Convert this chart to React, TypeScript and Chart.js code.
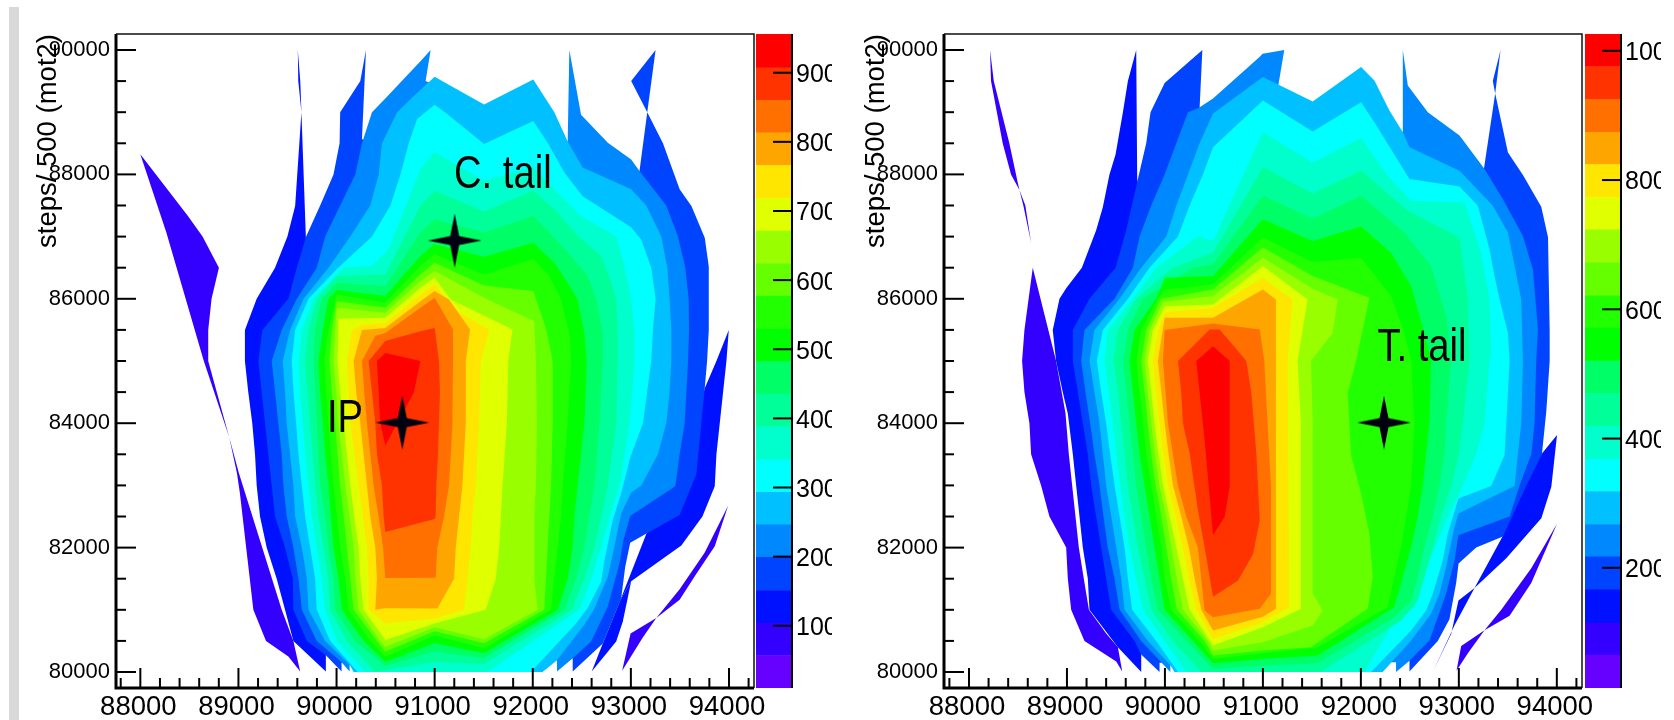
import React, { useEffect, useRef } from "react";
import { Chart, registerables } from "chart.js";

Chart.register(...registerables);

type P = [number, number];

const FONT = "'Liberation Sans', Arial, sans-serif";

// Palette, lowest band first
const bandColors = ["#6600ff","#3300ff","#0011ff","#0044ff","#0088ff","#00c0ff","#00ffff","#00ffcc","#00ff99","#00ff66","#00ff00","#22ff00","#66ff00","#99ff00","#e0ff00","#ffe600","#ffa500","#ff7000","#ff3300","#ff0000"];
const leftEdges = [10,57,104,151,199,246,293,340,388,435,482,529,577,624,671,718,766,813,860,907,956];
const rightEdges = [14,65,115,166,217,267,318,368,419,470,520,571,621,672,723,773,824,874,925,976,1026];
const leftPaletteTicks = [100,200,300,400,500,600,700,800,900];
const rightPaletteTicks = [200,400,600,800,1000];

const xTickValues = [87800,88000,88200,88400,88600,88800,89000,89200,89400,89600,89800,90000,90200,90400,90600,90800,91000,91200,91400,91600,91800,92000,92200,92400,92600,92800,93000,93200,93400,93600,93800,94000,94200];
const yTickValues = [80000,80500,81000,81500,82000,82500,83000,83500,84000,84500,85000,85500,86000,86500,87000,87500,88000,88500,89000,89500,90000];

// ---- Left plot contour outlines (motor steps)
const A_violetA: P[] = [[88000,88323],[88487,87328],[88634,87000],[88801,86500],[88726,86000],[88692,85500],[88692,85000],[88906,83775],[88647,85000],[88266,87060]];
const A_violetB: P[] = [[88906,83775],[89005,83197],[89441,81000],[89560,80500],[89629,80010],[89509,80250],[89281,80500],[89152,81000],[89015,82875],[88985,83197]];
const A_violetC: P[] = [[93991,82672],[93855,82020],[93651,81540],[93497,81160],[93259,80870],[92997,80620],[92911,80020],[93123,80560],[93259,80870],[93497,81330],[93753,81920]];
const A_blueMain: P[] = [[89605,90000],[89610,89500],[89642,89000],[89578,87490],[89499,87000],[89373,86500],[89186,86000],[89066,85500],[89066,85000],[89100,84500],[89141,84000],[89169,83500],[89186,83000],[89220,82500],[89288,82000],[89390,81500],[89475,81000],[89560,80500],[89891,80010],[89891,80270],[90000,85000],[89690,86870],[89642,89000],[89630,89500]];
const A_blueLobe: P[] = [[93998,85500],[93974,85000],[93940,84500],[93906,84000],[93872,83500],[93855,82985],[93729,82500],[93514,82035],[93003,81460],[92894,81160],[93157,82220],[93583,83400],[93753,84560],[93872,85000]];
const A_blueStrip: P[] = [[92894,81160],[93003,81460],[92918,80812],[92850,80490],[92601,80010],[92714,80460]];
const A_b44Main: P[] = [[90051,80150],[90051,80010],[89891,80270],[89697,80500],[89560,81000],[89554,81500],[89475,82000],[89373,82500],[89339,83000],[89305,83500],[89271,84000],[89237,84500],[89203,85000],[89244,85500],[89509,86000],[89595,86500],[89690,87000],[89833,87500],[89969,88000],[90031,88500],[90037,89000],[90242,89500],[90300,90000],[90259,88565],[93088,88055],[93167,89000],[93327,88500],[93497,87760],[93617,87490],[93753,86980],[93794,86520],[93794,85500],[93777,85000],[93753,84565],[93667,83175],[93497,82525],[93146,82215],[92993,82080],[92942,81690],[92901,81180],[92714,80460],[92407,80010],[92407,80220]];
const A_b44Top: P[] = [[93252,90000],[93003,89500],[93167,89000]];
const A_b88: P[] = [[90133,80115],[90133,80010],[90044,80170],[89799,80500],[89646,81000],[89612,81500],[89560,82000],[89492,82500],[89458,83000],[89441,83500],[89407,84000],[89373,84500],[89339,85000],[89441,85500],[89595,86000],[89799,86500],[89884,87000],[90037,87500],[90191,88000],[90259,88500],[90361,89000],[90497,89220],[90855,89820],[90959,90000],[90908,89500],[92356,88530],[92373,90000],[92492,88960],[92765,88510],[93003,88240],[93088,88055],[93361,87500],[93480,87000],[93555,86500],[93589,86000],[93593,85500],[93583,85000],[93566,84500],[93548,84000],[93497,83500],[93453,82985],[92993,82510],[92925,82125],[92884,81750],[92765,81055],[92595,80490],[92407,80220],[92247,80010],[92247,80190]];
const A_c0: P[] = [[90174,80000],[90133,80115],[89884,80500],[89714,81000],[89697,81500],[89646,82000],[89578,82500],[89560,83000],[89526,83500],[89492,84000],[89475,84500],[89451,85000],[89526,85500],[89663,86000],[89918,86500],[90140,87000],[90344,87500],[90429,88000],[90463,88500],[90617,89000],[90787,89260],[91000,89570],[91112,89470],[91504,89125],[92005,89525],[92220,89000],[92356,88530],[92509,88110],[93003,87760],[93157,87500],[93310,87000],[93371,86500],[93395,86000],[93412,85500],[93412,85000],[93395,84500],[93361,84000],[93276,83500],[93106,83000],[93003,82880],[92901,82550],[92833,82020],[92765,81530],[92629,81020],[92526,80760],[92247,80190],[92100,80000]];
const A_cyan: P[] = [[90215,80000],[89935,80500],[89799,81000],[89782,81500],[89731,82000],[89680,82500],[89646,83000],[89612,83500],[89588,84000],[89561,84500],[89543,85000],[89578,85500],[89714,86000],[90003,86480],[90361,87000],[90549,87500],[90651,88000],[90736,88500],[90821,88890],[91000,89118],[91112,88990],[91504,88490],[92005,88860],[92152,88510],[92322,88030],[92509,87650],[93003,87150],[93106,86950],[93208,86500],[93252,86000],[93225,85500],[93208,85000],[93123,84000],[92997,83465],[92901,82875],[92816,82445],[92731,81800],[92697,81450],[92560,81030],[92441,80780],[91981,80000]];
const A_cc: P[] = [[90293,80000],[90003,80500],[89884,81000],[89850,81500],[89799,82000],[89748,82500],[89714,83000],[89680,83500],[89656,84000],[89629,84500],[89612,85000],[89646,85500],[89765,86000],[90072,86500],[90361,86527],[90531,86796],[90855,88086],[91000,88355],[91504,87898],[92005,88113],[92220,87763],[92492,87333],[92850,87000],[92935,86527],[93003,86000],[93037,85450],[93037,85000],[92986,84000],[92884,83000],[92782,82500],[92697,82000],[92595,81500],[92475,81000],[91538,80000]];
const A_s99: P[] = [[90395,80000],[90106,80500],[89935,81000],[89918,81500],[89867,82000],[89816,82500],[89782,83000],[89758,83500],[89731,84000],[89704,84500],[89680,85000],[89714,85500],[89799,86000],[90003,86366],[90497,86392],[90855,87495],[91000,87736],[91504,87403],[92005,87736],[92220,87441],[92458,87011],[92697,86688],[92799,86258],[92850,85990],[92867,85450],[92867,85000],[92850,84000],[92765,83000],[92697,82500],[92629,82000],[92526,81500],[92397,81000],[91504,80129],[91000,80167],[90497,80030]];
const A_s66: P[] = [[90497,80097],[90191,80500],[89986,81000],[89969,81500],[89918,82000],[89884,82500],[89833,83000],[89816,83500],[89799,84000],[89782,84500],[89765,85000],[89782,85500],[89850,86000],[90003,86258],[90497,86204],[90855,87064],[91000,87280],[91504,87064],[92005,87333],[92169,87064],[92390,86688],[92560,86366],[92646,86000],[92714,85450],[92714,85000],[92680,84000],[92629,83000],[92577,82500],[92526,82000],[92441,81500],[92322,81000],[91504,80220],[91000,80328]];
const A_g00: P[] = [[90497,80167],[90276,80500],[90055,81000],[90020,81500],[89969,82000],[89942,82500],[89918,83000],[89884,83500],[89860,84000],[89833,84500],[89816,85000],[89860,85500],[89918,86000],[90003,86140],[90497,86043],[90855,86688],[91000,86876],[91504,86677],[92005,86903],[92220,86580],[92356,86258],[92458,85990],[92526,85450],[92550,85000],[92526,84000],[92458,83000],[92424,82500],[92407,82000],[92356,81500],[92254,81000],[91504,80300],[91000,80462]];
const A_g22: P[] = [[90497,80247],[90344,80500],[90123,81000],[90089,81500],[90037,82000],[90003,82500],[89969,83000],[89942,83500],[89918,84000],[89894,84500],[89874,85000],[89918,85500],[90003,86070],[90497,85936],[90855,86527],[91000,86715],[91504,86392],[92005,86645],[92169,86366],[92288,85990],[92373,85450],[92390,85000],[92356,84000],[92305,83000],[92288,82500],[92254,82000],[92220,81500],[92186,81000],[91504,80382],[91000,80586]];
const A_g66: P[] = [[90497,80328],[90412,80500],[90174,81000],[90140,81500],[90106,82000],[90072,82500],[90037,83000],[90010,83500],[89986,84000],[89952,84500],[89928,85000],[89952,85500],[90003,85962],[90497,85855],[90855,86392],[91000,86580],[91504,86215],[92005,86124],[92134,85532],[92203,85000],[92203,84000],[92186,83000],[92169,82500],[92152,82000],[92134,81500],[92117,81000],[91504,80462],[91000,80655]];
const A_g99: P[] = [[90497,80408],[90446,80500],[90225,81000],[90191,81500],[90174,82000],[90133,82500],[90089,83000],[90055,83500],[90020,84000],[89997,84500],[89969,85000],[89986,85500],[90003,85855],[90497,85774],[90855,86285],[91000,86446],[91538,85989],[92015,85640],[92032,85000],[92042,84000],[92032,83000],[92015,82500],[92015,82000],[92015,81500],[92049,81000],[91504,80527],[91000,80720]];
const A_ye0: P[] = [[90497,80516],[90276,81000],[90242,81500],[90225,82000],[90181,82500],[90140,83000],[90106,83500],[90072,84000],[90037,84500],[90010,85000],[90020,85500],[90020,85680],[90497,85694],[90855,86177],[91000,86339],[91164,85989],[91794,85505],[91750,85000],[91736,84000],[91692,83000],[91675,82500],[91658,82000],[91623,81500],[91521,81000],[91000,80780]];
const A_yel: P[] = [[90497,80780],[90327,81000],[90327,81500],[90310,82000],[90269,82500],[90225,83000],[90181,83500],[90140,84000],[90123,84500],[90106,85000],[90157,85500],[90259,85586],[90497,85613],[90855,86070],[91000,86231],[91198,85828],[91555,85505],[91470,85000],[91453,84000],[91419,83000],[91385,82500],[91368,82000],[91334,81500],[91300,81000],[91000,80860]];
const A_ora: P[] = [[90497,81027],[90395,81000],[90412,81500],[90395,82000],[90344,82500],[90310,83000],[90276,83500],[90242,84000],[90201,84500],[90174,85000],[90259,85500],[90497,85532],[90855,85962],[91000,86124],[91146,85989],[91361,85505],[91317,85000],[91317,84000],[91283,83000],[91249,82500],[91215,82000],[91198,81500],[91027,81020]];
const A_dor: P[] = [[90497,81510],[90474,82000],[90429,82500],[90378,83000],[90344,83500],[90310,84000],[90283,84500],[90259,85000],[90395,85400],[90497,85450],[90855,85855],[91000,86016],[91187,85505],[91187,85000],[91181,84000],[91146,83000],[91095,82500],[91027,82000],[91010,81515]];
const A_ore: P[] = [[90497,82250],[90480,82500],[90463,83000],[90412,83500],[90395,84000],[90361,84500],[90327,85000],[90497,85320],[90855,85478],[91000,85532],[91044,85000],[91054,84500],[91044,84000],[91034,83500],[91017,83000],[91010,82500],[91000,82460]];
const A_red: P[] = [[90412,85000],[90497,85130],[90855,85000],[90787,84490],[90497,83640],[90446,84000]];

// ---- Right plot contour outlines
const B_violetA: P[] = [[88215,90000],[88225,89500],[88344,88500],[88429,88000],[88515,87750],[88497,87875],[88412,88500],[88253,89500]];
const B_violetB: P[] = [[88515,87750],[88575,87500],[88634,86900],[88555,87500]];
const B_violetC: P[] = [[88634,86900],[88651,86500],[88889,85000],[88985,84160],[89019,83500],[89053,83000],[89087,82500],[89121,82000],[89172,81500],[89224,81000],[89400,80620],[89520,80400],[89564,80010],[89503,80170],[89179,80500],[89043,81000],[89009,81500],[88992,82000],[88821,82500],[88736,83000],[88634,83500],[88617,84000],[88566,84500],[88542,85000],[88566,85500],[88651,86500]];
const B_violetD: P[] = [[94002,82383],[93739,81430],[93518,80905],[93262,80670],[93024,80420],[92976,80020],[93092,80300],[93262,80670],[93433,81000],[93739,81670]];
const B_blueMain: P[] = [[89707,90000],[89622,89500],[89571,89000],[89496,88320],[89434,88000],[89366,87470],[89298,87100],[89152,86500],[88992,86170],[88924,86000],[88855,85500],[88889,85000],[88957,84500],[89009,84150],[89060,83500],[89094,83000],[89128,82500],[89162,82000],[89213,81500],[89230,81000],[89520,80400],[89758,80000],[89758,80280],[90000,85000],[89717,87925]];
const B_blueLobe: P[] = [[94002,83812],[93944,82980],[93842,82470],[93484,81830],[93160,81350],[93450,82190],[93500,83000],[93842,83500]];
const B_blueStrip: P[] = [[93160,81350],[92996,81150],[92922,80615],[92734,80000],[92956,80750]];
const B_b44Main: P[] = [[89945,80150],[89945,80000],[89758,80280],[89690,80500],[89451,81000],[89400,81500],[89349,82000],[89298,82500],[89247,83000],[89213,83500],[89162,84000],[89111,84500],[89060,85000],[89060,85500],[89230,86000],[89496,86500],[89605,87100],[89724,87925],[89809,88500],[89853,89000],[89997,89470],[90382,90000],[90354,89070],[93255,88080],[93371,89300],[93501,88350],[93654,87990],[93841,87480],[93910,86990],[93927,85500],[93927,85000],[93893,84200],[93848,83500],[93688,82990],[93450,82180],[93177,82000],[92997,81745],[92973,81435],[92904,80850],[92785,80500],[92496,80010],[92496,80190]];
const B_b44Top: P[] = [[93426,90000],[93347,89500],[93371,89300]];
const B_b88: P[] = [[90055,80110],[90055,80000],[89758,80500],[89537,81000],[89486,81500],[89417,82000],[89373,82500],[89332,83000],[89281,83500],[89237,84000],[89189,84500],[89145,85000],[89179,85500],[89486,86000],[89673,86500],[89741,87000],[89860,87500],[89997,88000],[90116,88500],[90235,89000],[90347,89070],[90491,89220],[90968,89890],[90997,89941],[91218,90000],[91157,89430],[91508,89100],[92000,89100],[92428,88677],[92428,90000],[92479,89430],[92683,89000],[93007,88624],[93262,88086],[93450,87602],[93654,87011],[93756,86473],[93807,85505],[93790,85021],[93773,84000],[93739,83500],[93620,83000],[93518,82500],[92996,82199],[92956,81796],[92870,81258],[92700,80506],[92496,80183],[92359,80000],[92359,80156]];
const B_c0: P[] = [[90099,80000],[90055,80110],[89826,80500],[89588,81000],[89554,81500],[89503,82000],[89452,82500],[89400,83000],[89366,83500],[89332,84000],[89281,84500],[89230,85000],[89281,85500],[89537,86000],[89758,86500],[90014,87000],[90116,87500],[90235,88000],[90354,88500],[90491,88979],[91000,89564],[91508,89172],[92002,89726],[92138,89510],[92291,89027],[92428,88677],[92496,88435],[93007,88059],[93347,87495],[93501,87064],[93569,86527],[93637,85989],[93654,85000],[93637,84000],[93603,83500],[93569,82989],[92996,82548],[92956,82333],[92870,81688],[92802,81258],[92717,80935],[92513,80506],[92223,80000]];
const B_cyan: P[] = [[90133,80000],[89911,80500],[89666,81000],[89622,81500],[89588,82000],[89537,82500],[89486,83000],[89441,83500],[89400,84000],[89349,84500],[89305,85000],[89366,85500],[89622,86000],[89843,86500],[90133,87000],[90252,87500],[90388,88000],[90491,88435],[91000,89188],[91508,88688],[92002,89161],[92138,88839],[92496,87925],[93007,87806],[93194,87495],[93313,86796],[93364,86366],[93416,85989],[93501,85452],[93518,85000],[93484,84000],[93467,83489],[93330,82989],[92996,82790],[92887,82226],[92836,81796],[92734,81258],[92666,80989],[92513,80667],[92104,80000]];
const B_cc: P[] = [[90218,80000],[89997,80500],[89775,81000],[89707,81500],[89639,82000],[89588,82500],[89543,83000],[89503,83500],[89468,84000],[89428,84500],[89383,85000],[89417,85500],[89673,86000],[89911,86500],[90337,87000],[90491,86930],[91000,88677],[91508,88193],[92002,88580],[92274,87978],[92513,87575],[93058,87548],[93228,86742],[93313,85989],[93330,85129],[93313,85000],[93262,84000],[93177,83500],[93092,83193],[93007,82871],[92870,82441],[92802,82172],[92632,81527],[92547,81043],[92325,80774],[92036,80000]];
const B_s99: P[] = [[90371,80000],[90082,80500],[89860,81000],[89792,81500],[89724,82000],[89673,82500],[89622,83000],[89588,83500],[89554,84000],[89520,84500],[89475,85000],[89520,85500],[89707,86000],[90082,86500],[90491,86742],[91000,88113],[91508,87693],[92002,88059],[92479,87414],[93007,86984],[93092,85989],[93109,85000],[93041,84000],[93000,83500],[92922,82989],[92819,82505],[92734,82011],[92649,81527],[92581,81151],[92410,80828],[91592,80000]];
const B_s66: P[] = [[90491,80049],[90218,80500],[89928,81000],[89860,81500],[89809,82000],[89758,82500],[89707,83000],[89673,83500],[89639,84000],[89605,84500],[89571,85000],[89622,85500],[89775,86000],[90286,86500],[90491,86554],[91000,87656],[91508,87290],[92002,87656],[92445,87064],[92717,86527],[92870,85720],[92922,85000],[92870,84000],[92853,83500],[92802,82989],[92734,82505],[92649,82011],[92581,81527],[92513,81151],[92342,80882],[91559,80140],[91000,80100]];
const B_g00: P[] = [[90491,80140],[90286,80500],[89997,81000],[89945,81500],[89894,82000],[89843,82500],[89792,83000],[89741,83500],[89707,84000],[89673,84500],[89639,85000],[89690,85500],[89911,86000],[90000,86339],[90491,86366],[91000,87280],[91508,86930],[92002,87161],[92308,86742],[92513,86204],[92649,85452],[92717,85000],[92700,84000],[92666,83500],[92632,83000],[92581,82500],[92513,82011],[92428,81527],[92342,81043],[91559,80264],[91000,80210]];
const B_g22: P[] = [[90491,80210],[90354,80500],[90065,81000],[89997,81500],[89963,82000],[89911,82500],[89860,83000],[89809,83500],[89775,84000],[89741,84500],[89707,85000],[89758,85500],[89928,86000],[90000,86150],[90491,86231],[91000,86984],[91508,86591],[92002,86661],[92308,86043],[92445,85452],[92513,85000],[92547,84000],[92513,83000],[92462,82500],[92410,82011],[92342,81527],[92274,81043],[91559,80398],[91000,80300]];
const B_g66: P[] = [[90491,80264],[90405,80500],[90123,81000],[90065,81500],[90014,82000],[89963,82500],[89905,83000],[89860,83500],[89826,84000],[89792,84500],[89758,85000],[89809,85500],[89960,86000],[90491,86151],[91000,86823],[91508,86366],[92087,86016],[91951,85000],[91865,84484],[91882,84000],[91899,83489],[92002,82871],[92087,82226],[92121,81527],[92070,81016],[91491,80398],[91000,80344]];
const B_g99: P[] = [[90491,80344],[90439,80500],[90184,81000],[90123,81500],[90065,82000],[90014,82500],[89945,83000],[89900,83500],[89860,84000],[89826,84500],[89792,85000],[89843,85500],[89980,85950],[90491,86043],[91000,86661],[91508,86161],[91763,85989],[91712,85452],[91491,85000],[91508,84000],[91508,83000],[91508,82000],[91508,81258],[91610,80989],[91508,80747],[91000,80480]];
const B_ye0: P[] = [[90491,80425],[90252,81000],[90184,81500],[90116,82000],[90048,82500],[89980,83000],[89935,83500],[89894,84000],[89860,84500],[89826,85000],[89877,85500],[90000,85880],[90491,85909],[91000,86527],[91456,85989],[91354,85000],[91388,84000],[91388,81016],[91000,80720]];
const B_yel: P[] = [[90491,80532],[90320,81000],[90245,81500],[90184,82000],[90109,82500],[90031,83000],[89986,83500],[89945,84000],[89911,84500],[89877,85000],[89928,85500],[90000,85780],[90491,85855],[91000,86339],[91303,85989],[91252,85000],[91269,81043],[91000,80801]];
const B_ora: P[] = [[90491,80667],[90371,81000],[90303,81500],[90245,82000],[90167,82500],[90082,83000],[90037,83500],[89997,84000],[89963,84500],[89928,85000],[89997,85694],[90491,85694],[91000,86151],[91133,85989],[91133,85000],[91133,81016],[91000,80890]];
const B_dor: P[] = [[90491,80882],[90405,80989],[90337,82000],[90218,82500],[90133,83000],[90082,83500],[90031,84000],[90007,84500],[89980,85000],[89997,85500],[90491,85602],[90968,85505],[91014,85000],[91082,83000],[91082,81258],[90968,81016]];
const B_ore: P[] = [[90491,81209],[90405,82011],[90337,82602],[90252,83516],[90184,84000],[90167,84484],[90133,85000],[90456,85505],[90559,85505],[90763,85129],[90831,85000],[90882,84484],[90933,83516],[90968,82441],[90899,81892],[90746,81473]];
const B_red: P[] = [[90491,85237],[90661,85000],[90661,82979],[90610,82495],[90491,82199],[90405,83731],[90320,85000]];

// Lowest band first; each entry: colour index, outline
const leftBands: [number, P[]][] = [
  [1,A_violetA],[1,A_violetB],[1,A_violetC],[2,A_blueMain],[2,A_blueLobe],[2,A_blueStrip],[3,A_b44Main],[3,A_b44Top],[4,A_b88],[5,A_c0],[6,A_cyan],[7,A_cc],[8,A_s99],[9,A_s66],[10,A_g00],[11,A_g22],[12,A_g66],[13,A_g99],[14,A_ye0],[15,A_yel],[16,A_ora],[17,A_dor],[18,A_ore],[19,A_red],
];
const rightBands: [number, P[]][] = [
  [1,B_violetA],[1,B_violetB],[1,B_violetC],[1,B_violetD],[2,B_blueMain],[2,B_blueLobe],[2,B_blueStrip],[3,B_b44Main],[3,B_b44Top],[4,B_b88],[5,B_c0],[6,B_cyan],[7,B_cc],[8,B_s99],[9,B_s66],[10,B_g00],[11,B_g22],[12,B_g66],[13,B_g99],[14,B_ye0],[15,B_yel],[16,B_ora],[17,B_dor],[18,B_ore],[19,B_red],
];

const leftStars: P[] = [[90670,84010],[91204,86937]];
const rightStars: P[] = [[92236,84010]];
const leftNotes: [string, number, number][] = [["C. tail",91695,87990],["IP",90086,84055]];
const rightNotes: [string, number, number][] = [["T. tail",92624,85200]];

function makeStar(): HTMLCanvasElement {
  const c = document.createElement("canvas");
  c.width = 54; c.height = 54;
  const g = c.getContext("2d")!;
  g.fillStyle = "#000010";
  g.beginPath();
  g.moveTo(27,0); g.lineTo(31.5,22.5); g.lineTo(54,27); g.lineTo(31.5,31.5); g.lineTo(27,54); g.lineTo(22.5,31.5); g.lineTo(0,27); g.lineTo(22.5,22.5);
  g.closePath(); g.fill();
  return c;
}

function framePlugin(notes: [string, number, number][]) {
  return {
    id: "frame",
    afterDatasetsDraw(chart: any) {
      const { ctx, chartArea: a, scales } = chart;
      ctx.save();
      ctx.strokeStyle = "#000";
      ctx.fillStyle = "#000";
      ctx.lineWidth = 2;
      for (const t of scales.x.ticks) {
        const px = scales.x.getPixelForValue(t.value);
        const len = t.value % 1000 === 0 ? 20 : 10;
        ctx.beginPath(); ctx.moveTo(px, a.bottom); ctx.lineTo(px, a.bottom - len); ctx.stroke();
      }
      for (const t of scales.y.ticks) {
        const py = scales.y.getPixelForValue(t.value);
        const len = t.value % 2000 === 0 ? 20 : 10;
        ctx.beginPath(); ctx.moveTo(a.left, py); ctx.lineTo(a.left + len, py); ctx.stroke();
      }
      ctx.lineWidth = 3;
      ctx.beginPath(); ctx.moveTo(a.left, a.top); ctx.lineTo(a.left, a.bottom); ctx.lineTo(a.right, a.bottom); ctx.stroke();
      ctx.lineWidth = 1.5;
      ctx.strokeStyle = "#111";
      ctx.beginPath(); ctx.moveTo(a.left, a.top); ctx.lineTo(a.right, a.top); ctx.lineTo(a.right, a.bottom); ctx.stroke();
      ctx.font = `46px ${FONT}`;
      ctx.textAlign = "center";
      ctx.textBaseline = "middle";
      for (const [s, x, y] of notes) {
        ctx.save();
        ctx.translate(scales.x.getPixelForValue(x), scales.y.getPixelForValue(y));
        ctx.scale(0.83, 1);
        ctx.fillText(s, 0, 0);
        ctx.restore();
      }
      ctx.restore();
    },
  };
}

const paletteAxisPlugin = {
  id: "paletteAxis",
  afterDatasetsDraw(chart: any) {
    const { ctx, chartArea: a, scales } = chart;
    ctx.save();
    ctx.strokeStyle = "#000";
    ctx.lineWidth = 2;
    ctx.beginPath(); ctx.moveTo(a.right, a.top); ctx.lineTo(a.right, a.bottom); ctx.stroke();
    for (const t of scales.y.ticks) {
      const py = scales.y.getPixelForValue(t.value);
      ctx.beginPath(); ctx.moveTo(a.right, py); ctx.lineTo(a.right - 19, py); ctx.stroke();
    }
    ctx.restore();
  },
};

const noPadding = (s: any) => { s.paddingLeft = 0; s.paddingRight = 0; s.paddingTop = 0; s.paddingBottom = 0; };

function Plot({ left, xMin, xMax, bands, stars, notes }: any) {
  const ref = useRef<HTMLCanvasElement>(null);
  useEffect(() => {
    const datasets: any[] = [];
    datasets.push({ type: "scatter", data: stars.map(([x, y]: P) => ({ x, y })), showLine: false, pointStyle: makeStar(), pointRadius: 27 });
    for (const [ci, poly] of [...bands].reverse()) {
      datasets.push({
        type: "scatter",
        data: poly.map(([x, y]: P) => ({ x, y })),
        showLine: true,
        fill: "shape",
        backgroundColor: bandColors[ci],
        borderColor: bandColors[ci],
        borderWidth: 0,
        pointRadius: 0,
        tension: 0,
      });
    }
    const chart = new Chart(ref.current!, {
      type: "scatter",
      data: { datasets },
      plugins: [framePlugin(notes)],
      options: {
        animation: false,
        responsive: false,
        events: [],
        layout: { autoPadding: false, padding: { top: 34, right: 30, left: 0, bottom: 0 } },
        plugins: { legend: { display: false }, tooltip: { enabled: false } },
        scales: {
          x: {
            type: "linear", min: xMin, max: xMax,
            grid: { display: false, drawTicks: false }, border: { display: false },
            afterBuildTicks: (s: any) => { s.ticks = xTickValues.map((value) => ({ value })); },
            afterFit: (s: any) => { s.height = 32; noPadding(s); },
            ticks: {
              autoSkip: false, maxRotation: 0, padding: 3, labelOffset: -2, color: "#000",
              font: { family: FONT, size: 27.5 },
              callback: (v: any) => (Number(v) % 1000 === 0 ? String(v) : ""),
            },
          },
          y: {
            type: "linear", min: 79743, max: 90257,
            grid: { display: false, drawTicks: false }, border: { display: false },
            afterBuildTicks: (s: any) => { s.ticks = yTickValues.map((value) => ({ value })); },
            afterFit: (s: any) => { s.width = 92; noPadding(s); },
            title: { display: true, text: "steps/ 500 (mot2)", align: "end", color: "#000", font: { family: FONT, size: 27.5 }, padding: { top: 8, bottom: 0 } },
            ticks: {
              autoSkip: false, padding: 6, color: "#000",
              font: { family: FONT, size: 22 },
              callback: (v: any) => (Number(v) % 2000 === 0 ? String(v) : ""),
            },
          },
        },
      },
    } as any);
    return () => chart.destroy();
  }, []);
  return <canvas ref={ref} width={760} height={720} style={{ position: "absolute", left, top: 0, display: "block" }} />;
}

function Palette({ left, edges, ticks }: any) {
  const ref = useRef<HTMLCanvasElement>(null);
  useEffect(() => {
    const datasets = bandColors.map((c, i) => ({ data: [[edges[i], edges[i + 1]]], backgroundColor: c, borderWidth: 0, grouped: false, barPercentage: 1, categoryPercentage: 1 }));
    const chart = new Chart(ref.current!, {
      type: "bar",
      data: { labels: ["z"], datasets },
      plugins: [paletteAxisPlugin],
      options: {
        animation: false,
        responsive: false,
        events: [],
        layout: { autoPadding: false, padding: { top: 34, bottom: 32, left: 0, right: 0 } },
        plugins: { legend: { display: false }, tooltip: { enabled: false } },
        scales: {
          x: { display: false },
          y: {
            position: "right",
            min: edges[0], max: edges[edges.length - 1],
            grid: { display: false, drawTicks: false }, border: { display: false },
            afterBuildTicks: (s: any) => { s.ticks = ticks.map((value: number) => ({ value })); },
            afterFit: (s: any) => { s.width = 40; noPadding(s); },
            ticks: { autoSkip: false, padding: 4, labelOffset: 2.5, color: "#000", font: { family: FONT, size: 25 }, callback: (v: any) => String(v) },
          },
        },
      },
    } as any);
    return () => chart.destroy();
  }, []);
  return <canvas ref={ref} width={76} height={720} style={{ position: "absolute", left, top: 0, display: "block" }} />;
}

export default function App() {
  return (
    <div style={{ position: "absolute", left: 0, top: 0, width: 1674, height: 720, overflow: "hidden", background: "#fff" }}>
      <div style={{ position: "absolute", left: 9, top: 7, width: 10, height: 713, background: "#d9d9d9" }} />
      <Plot left={24} xMin={87752} xMax={94255} bands={leftBands} stars={leftStars} notes={leftNotes} />
      <Palette left={756} edges={leftEdges} ticks={leftPaletteTicks} />
      <Plot left={852} xMin={87745} xMax={94257} bands={rightBands} stars={rightStars} notes={rightNotes} />
      <Palette left={1585} edges={rightEdges} ticks={rightPaletteTicks} />
    </div>
  );
}
